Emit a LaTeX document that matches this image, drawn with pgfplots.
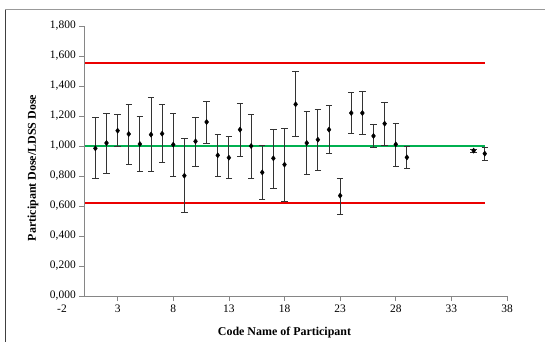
\documentclass[border=0pt]{standalone}
\usepackage{pgfplots}
\pgfplotsset{compat=1.18}
\usepackage{pgfplotstable}
\usepackage{fontspec}
\setmainfont{Liberation Serif}
\definecolor{exgreen}{RGB}{0,176,80}
\definecolor{exred}{RGB}{235,0,0}
\definecolor{axgray}{RGB}{134,134,134}

\pgfplotstableread{
x y ep em
1 0.984 0.205 0.202
2 1.020 0.200 0.202
3 1.102 0.107 0.102
4 1.080 0.198 0.200
5 1.013 0.183 0.182
6 1.076 0.248 0.243
7 1.082 0.196 0.191
8 1.009 0.207 0.211
9 0.802 0.249 0.246
10 1.031 0.160 0.164
11 1.160 0.138 0.140
12 0.938 0.138 0.140
13 0.922 0.140 0.140
14 1.109 0.173 0.176
15 1.000 0.211 0.218
16 0.824 0.180 0.177
17 0.918 0.195 0.198
18 0.876 0.244 0.245
19 1.278 0.220 0.216
20 1.020 0.211 0.211
21 1.042 0.202 0.204
22 1.109 0.160 0.158
23 0.669 0.115 0.125
24 1.220 0.138 0.138
25 1.220 0.142 0.144
26 1.067 0.075 0.076
27 1.149 0.140 0.145
28 1.011 0.138 0.144
29 0.924 0.074 0.075
35 0.969 0.010 0.010
36 0.949 0.044 0.045
}\dosedata

\pgfplotstableread{
x y
0 0.62
36 0.62
18 nan
0 1.553
36 1.553
}\limitlines

\pgfplotstableread{
x y
0 1.0
36 1.0
}\targetline

\begin{document}
\begin{tikzpicture}
\useasboundingbox (0,0) rectangle (545bp,342bp);
\fill[white] (0,0) rectangle (545bp,342bp);
\draw[black!75, line width=0.8bp] (5bp,-5bp) -- (5bp,333bp);
\draw[gray!80, line width=0.8bp] (5bp,333bp) -- (560bp,333bp);
% axis carrying the x ticks and the data
\begin{axis}[
  at={(62bp,46bp)}, anchor=south west,
  scale only axis, width=445bp, height=270bp,
  xmin=-2, xmax=38, ymin=0, ymax=1.8,
  axis line style={draw=none},
  tick align=outside,
  major tick length=5bp,
  tick style={axgray, line width=0.7bp},
  xtick pos=bottom,
  ytick=\empty,
  xtick={3,8,13,18,23,28,33,38},
  extra x ticks={-2},
  extra x tick style={tick style={draw=none}},
  /pgf/number format/assume math mode=true,
  ticklabel style={font=\fontsize{11.5}{13}\selectfont, black},
  xlabel={Code Name of Participant},
  xlabel style={font=\bfseries\fontsize{12}{14}\selectfont, yshift=2bp},
  clip=false,
  unbounded coords=jump,
]
\addplot[draw=exgreen, line width=1.6bp, mark=none] table[x=x, y=y] {\targetline};
\addplot[draw=exred, line width=1.6bp, mark=none] table[x=x, y=y] {\limitlines};
\addplot[only marks, mark=diamond*, mark size=2.6bp, black,
  error bars/.cd, y dir=both, y explicit,
  error bar style={black!80, line width=0.8bp},
  error mark options={rotate=90, mark size=3.2bp, black!80, line width=0.8bp}]
  table[x=x, y=y, y error plus=ep, y error minus=em] {\dosedata};
\end{axis}
% axis carrying the y axis line and the x axis line from x = 0
\begin{axis}[
  at={(84.25bp,46bp)}, anchor=south west,
  scale only axis, width=422.75bp, height=270bp,
  xmin=0, xmax=38, ymin=0, ymax=1.8,
  axis x line=bottom, axis y line=left,
  axis line style={-, axgray, line width=0.7bp},
  tick align=outside,
  major tick length=5bp,
  tick style={axgray, line width=0.7bp},
  xtick=\empty,
  ytick={0,0.2,0.4,0.6,0.8,1.0,1.2,1.4,1.6,1.8},
  /pgf/number format/assume math mode=true,
  yticklabel style={/pgf/number format/.cd, fixed, fixed zerofill, precision=3, use comma, 1000 sep={}},
  ticklabel style={font=\fontsize{11.5}{13}\selectfont, black},
]
\end{axis}
\node[rotate=90, font=\bfseries\fontsize{12}{14}\selectfont] at (33bp,174bp) {Participant Dose/LDSS Dose};
\end{tikzpicture}
\end{document}
